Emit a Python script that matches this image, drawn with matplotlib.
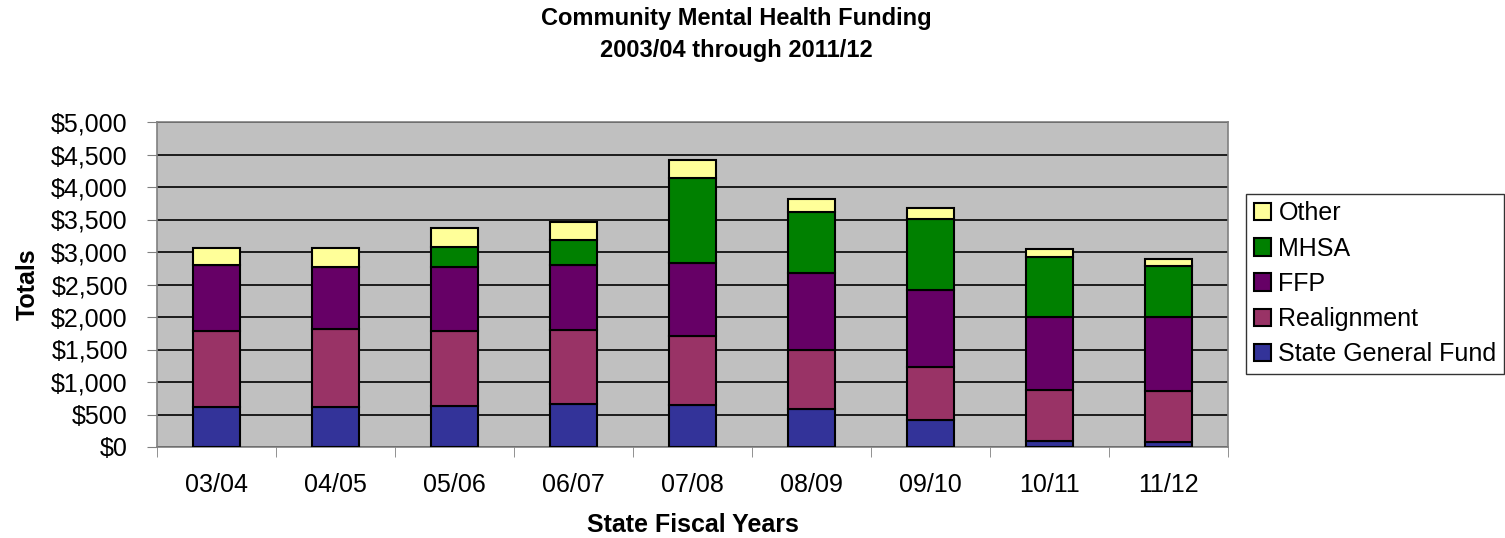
import matplotlib
matplotlib.use("Agg")
import matplotlib.pyplot as plt
import numpy as np
from matplotlib.ticker import FuncFormatter, MultipleLocator

plt.rcParams['font.family'] = ['Liberation Sans', 'DejaVu Sans']

# valores (millones de dolares)
years = ["03/04", "04/05", "05/06", "06/07", "07/08", "08/09", "09/10", "10/11", "11/12"]
state_general_fund = [620, 620, 630, 660, 645, 580, 412, 88, 77]
realignment = [1170, 1190, 1160, 1140, 1065, 910, 815, 793, 784]
ffp = [1005, 965, 985, 995, 1115, 1185, 1190, 1119, 1134]
mhsa = [0, 0, 305, 385, 1310, 935, 1097, 923, 789]
other = [268, 290, 285, 280, 285, 200, 160, 123, 113]

series = [
    ("State General Fund", state_general_fund, "#333399"),
    ("Realignment", realignment, "#993366"),
    ("FFP", ffp, "#660066"),
    ("MHSA", mhsa, "#008000"),
    ("Other", other, "#FFFF99"),
]

fig = plt.figure(figsize=(15.05, 5.38), dpi=100)
ax = fig.add_axes([157 / 1505, 1 - 447 / 538, (1228 - 157) / 1505, (447 - 122) / 538])

x = np.arange(len(years))
bottom = np.zeros(len(years))
handles = []
for name, vals, color in series:
    vals = np.array(vals, dtype=float)
    bars = ax.bar(x, vals, width=0.4, bottom=bottom, color=color,
                  edgecolor="black", linewidth=1.5, label=name, zorder=3)
    handles.append(bars)
    bottom += vals

# fondo y lineas de la grilla
ax.set_facecolor("#C0C0C0")
ax.set_xlim(-0.5, len(years) - 0.5)
ax.set_ylim(0, 5000)
ax.yaxis.set_major_locator(MultipleLocator(500))
ax.yaxis.set_major_formatter(FuncFormatter(lambda v, p: "${:,.0f}".format(v)))
ax.grid(axis="y", color="black", linewidth=1.2, zorder=1)
ax.set_axisbelow(True)

for s in ax.spines.values():
    s.set_color("#808080")
    s.set_linewidth(1.2)

ax.set_xticks(x)
ax.set_xticklabels(years)
ax.set_xticks(np.arange(len(years) + 1) - 0.5, minor=True)
ax.tick_params(axis="x", which="major", length=0, pad=19, labelsize=18)
ax.tick_params(axis="x", which="minor", length=7, color="#808080")
ax.tick_params(axis="y", length=7, color="#808080", labelsize=18, pad=14)

ax.set_ylabel("Totals", fontsize=18, fontweight="bold", labelpad=8)
ax.set_xlabel("State Fiscal Years", fontsize=18, fontweight="bold", labelpad=11)

fig.text(736 / 1505, 1 - 18 / 538, "Community Mental Health Funding",
         ha="center", va="center", fontsize=17, fontweight="bold")
fig.text(736 / 1505, 1 - 50 / 538, "2003/04 through 2011/12",
         ha="center", va="center", fontsize=17, fontweight="bold")

leg = ax.legend(handles[::-1], [s[0] for s in series][::-1],
                loc="upper left", bbox_to_anchor=(1246 / 1505, 1 - 194 / 538),
                bbox_transform=fig.transFigure, fontsize=18, frameon=True,
                fancybox=False, edgecolor="black", handlelength=0.7,
                handleheight=0.7, handletextpad=0.3, labelspacing=0.45,
                borderpad=0.3, borderaxespad=0)
leg.get_frame().set_linewidth(1.0)

fig.savefig("out.png", dpi=100)
